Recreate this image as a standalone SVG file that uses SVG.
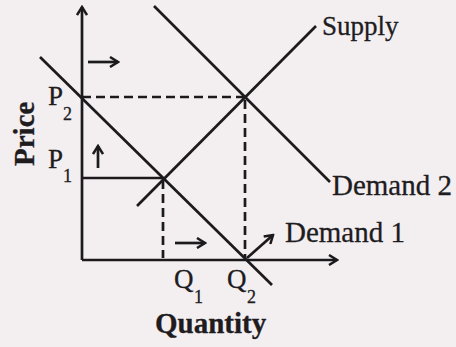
<svg xmlns="http://www.w3.org/2000/svg" width="456" height="347" viewBox="0 0 456 347">
<defs>
<style>
.ln{stroke:#1c1a1c;stroke-width:2.7;fill:none;stroke-linecap:butt}
.ds{stroke:#1c1a1c;stroke-width:2.7;fill:none;stroke-dasharray:9 5}
.ar{stroke:#1c1a1c;stroke-width:2.7;fill:none}
.t{font-family:"Liberation Serif","Times New Roman",serif;fill:#1e1c1e;font-size:27px;stroke:#1e1c1e;stroke-width:0.3}
.d{font-size:29px}
.b{font-weight:bold;font-size:29px}
.s{font-size:18px}
</style>
<marker id="ah" viewBox="0 0 12 12" refX="10" refY="6" markerWidth="12" markerHeight="12" markerUnits="userSpaceOnUse" orient="auto">
<path d="M2,1 L10,6 L2,11" fill="none" stroke="#1c1a1c" stroke-width="2.5"/>
</marker>
</defs>
<rect width="456" height="347" fill="#f3eff1"/>
<g id="axes">
<line class="ln" x1="82" y1="260" x2="82" y2="7" marker-end="url(#ah)"/>
<line class="ln" x1="82" y1="260" x2="337" y2="260" marker-end="url(#ah)"/>
</g>
<g id="connectors">
<line class="ds" x1="82" y1="97" x2="244" y2="97"/>
<line class="ds" x1="245" y1="100" x2="245" y2="258"/>
<line class="ln" x1="82" y1="178" x2="163" y2="178"/>
<line class="ds" x1="163" y1="180" x2="163" y2="258"/>
<line class="ar" x1="88" y1="62" x2="118" y2="62" marker-end="url(#ah)"/>
<line class="ar" x1="98" y1="168" x2="98" y2="146" marker-end="url(#ah)"/>
<line class="ar" x1="175" y1="243" x2="205" y2="243" marker-end="url(#ah)"/>
<line class="ar" x1="247" y1="258" x2="273" y2="235" marker-end="url(#ah)"/>
</g>
<g id="demand1">
<line class="ln" x1="40" y1="57" x2="272" y2="285"/>
<text class="t d" x="285" y="242">Demand 1</text>
</g>
<g id="demand2">
<line class="ln" x1="154" y1="6" x2="330" y2="182"/>
<text class="t d" x="332" y="195">Demand 2</text>
</g>
<g id="supply">
<line class="ln" x1="137" y1="206" x2="316" y2="26"/>
<text class="t" x="322" y="35">Supply</text>
</g>
<g id="labels">
<text class="t b" transform="translate(34,166) rotate(-90)">Price</text>
<text class="t" x="48" y="105">P</text><text class="t s" x="63" y="120">2</text>
<text class="t" x="48" y="168">P</text><text class="t s" x="63" y="182">1</text>
<text class="t" x="174" y="288">Q</text><text class="t s" x="194" y="303">1</text>
<text class="t" x="227" y="288">Q</text><text class="t s" x="247" y="303">2</text>
<text class="t b" x="155" y="333">Quantity</text>
</g>
</svg>
